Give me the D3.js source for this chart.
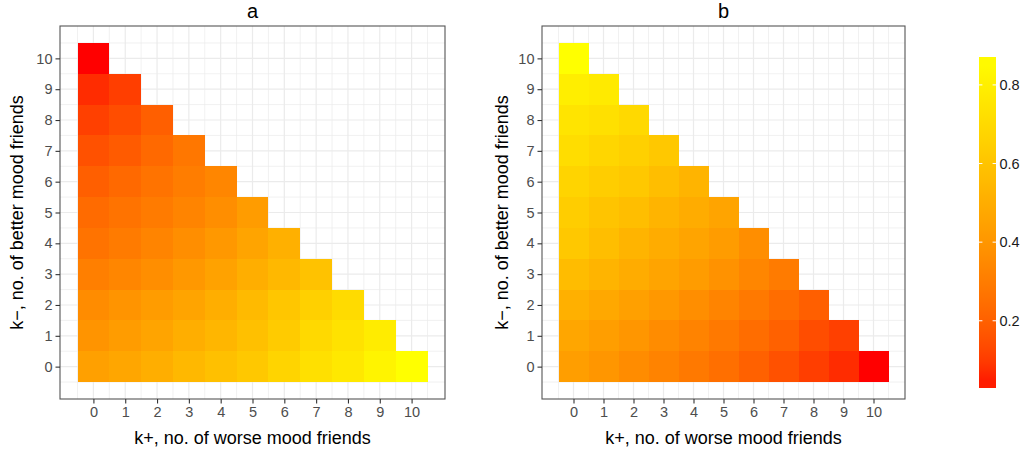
<!DOCTYPE html>
<html>
<head>
<meta charset="utf-8">
<script src="https://cdn.jsdelivr.net/npm/d3@7"></script>
<style>
  body { margin: 0; background: #fff; }
  svg { display: block; font-family: "Liberation Sans", Arial, Helvetica, sans-serif; }
</style>
</head>
<body>
<svg id="chart" width="1035" height="456"></svg>
<script>
// Tick labels for both axes and for the colour bar
const kTicks = [0, 1, 2, 3, 4, 5, 6, 7, 8, 9, 10];
const legendTicks = [0.2, 0.4, 0.6, 0.8];
const panelTitles = ["a", "b"];
const xTitle = "k+, no. of worse mood friends";
const yTitle = "k\u2212, no. of better mood friends";

// Panel a: one row per k- (0..10); entries run over k+ = 0 .. 10 - k-
const panelA = [
  [0.442, 0.468, 0.503, 0.546, 0.583, 0.619, 0.674, 0.729, 0.766, 0.821, 0.871],
  [0.393, 0.426, 0.459, 0.503, 0.538, 0.583, 0.629, 0.693, 0.738, 0.784],
  [0.361, 0.393, 0.426, 0.459, 0.503, 0.555, 0.610, 0.656, 0.702],
  [0.308, 0.338, 0.369, 0.410, 0.450, 0.503, 0.546, 0.592],
  [0.265, 0.294, 0.330, 0.369, 0.410, 0.459, 0.511],
  [0.236, 0.265, 0.294, 0.330, 0.369, 0.426],
  [0.196, 0.230, 0.265, 0.301, 0.338],
  [0.154, 0.183, 0.230, 0.279],
  [0.111, 0.143, 0.196],
  [0.071, 0.107],
  [0.029]
];

// Panel b: same layout
const panelB = [
  [0.434, 0.401, 0.361, 0.323, 0.287, 0.250, 0.203, 0.154, 0.107, 0.071, 0.029],
  [0.468, 0.434, 0.401, 0.361, 0.323, 0.287, 0.243, 0.203, 0.143, 0.111],
  [0.511, 0.476, 0.442, 0.410, 0.369, 0.330, 0.287, 0.243, 0.196],
  [0.564, 0.529, 0.494, 0.459, 0.426, 0.385, 0.338, 0.294],
  [0.619, 0.574, 0.529, 0.494, 0.459, 0.426, 0.369],
  [0.638, 0.601, 0.574, 0.529, 0.494, 0.459],
  [0.674, 0.638, 0.619, 0.574, 0.529],
  [0.711, 0.683, 0.656, 0.619],
  [0.747, 0.729, 0.693],
  [0.793, 0.775],
  [0.871]
];

const svg = d3.select("#chart");

function toCells(rows) {
  const cells = [];
  rows.forEach((row, km) => row.forEach((v, kp) => cells.push({ kp, km, v })));
  return cells;
}

const cellsA = toCells(panelA);
const cellsB = toCells(panelB);

// Shared red -> yellow fill scale over all values
const extent = d3.extent(cellsA.concat(cellsB), d => d.v);
const color = d3.scaleSequential(d3.interpolateLab("red", "yellow")).domain(extent);

// Continuous axes with 5% expansion around the tile extent [-0.5, 10.5]
const lo = -0.5 - 0.55, hi = 10.5 + 0.55;
const panelTop = 26, panelBottom = 399;

const gridVals = d3.range(-0.5, 10.51, 0.5);

function drawPanel(cells, title, left, right, yTitleX) {
  const x = d3.scaleLinear().domain([lo, hi]).range([left, right]);
  const y = d3.scaleLinear().domain([lo, hi]).range([panelBottom, panelTop]);
  const g = svg.append("g");

  // grid
  const grid = g.append("g");
  grid.selectAll("line.v").data(gridVals).join("line")
    .attr("x1", d => x(d)).attr("x2", d => x(d))
    .attr("y1", panelTop).attr("y2", panelBottom)
    .attr("stroke", "#EBEBEB")
    .attr("stroke-width", d => Number.isInteger(d) ? 1.2 : 0.7);
  grid.selectAll("line.h").data(gridVals).join("line")
    .attr("y1", d => y(d)).attr("y2", d => y(d))
    .attr("x1", left).attr("x2", right)
    .attr("stroke", "#EBEBEB")
    .attr("stroke-width", d => Number.isInteger(d) ? 1.2 : 0.7);

  // tiles
  g.append("g").selectAll("rect").data(cells).join("rect")
    .attr("x", d => x(d.kp - 0.5))
    .attr("width", d => x(d.kp + 0.5) - x(d.kp - 0.5))
    .attr("y", d => y(d.km + 0.5))
    .attr("height", d => y(d.km - 0.5) - y(d.km + 0.5))
    .attr("fill", d => color(d.v))
    .attr("shape-rendering", "crispEdges");

  // border
  g.append("rect")
    .attr("x", left).attr("y", panelTop)
    .attr("width", right - left).attr("height", panelBottom - panelTop)
    .attr("fill", "none").attr("stroke", "#555").attr("stroke-width", 1.1);

  // axes
  const xAxis = g.append("g").attr("transform", `translate(0,${panelBottom})`)
    .call(d3.axisBottom(x).tickValues(kTicks).tickSize(4.5).tickPadding(3).tickFormat(d3.format("d")));
  const yAxis = g.append("g").attr("transform", `translate(${left},0)`)
    .call(d3.axisLeft(y).tickValues(kTicks).tickSize(4.5).tickPadding(3).tickFormat(d3.format("d")));
  [xAxis, yAxis].forEach(a => {
    a.select(".domain").remove();
    a.selectAll(".tick line").attr("stroke", "#333").attr("stroke-width", 1.1);
    a.selectAll(".tick text").attr("fill", "#4D4D4D").attr("font-size", 14.5)
      .attr("font-family", "Liberation Sans, Arial, sans-serif");
  });

  // titles
  g.append("text")
    .attr("x", (left + right) / 2).attr("y", 18.2)
    .attr("text-anchor", "middle").attr("font-size", 20).attr("fill", "#000")
    .text(title);
  g.append("text")
    .attr("x", (left + right) / 2).attr("y", 444)
    .attr("text-anchor", "middle").attr("font-size", 18).attr("fill", "#000")
    .text(xTitle);
  g.append("text")
    .attr("transform", `translate(${yTitleX},${(panelTop + panelBottom) / 2}) rotate(-90)`)
    .attr("text-anchor", "middle").attr("font-size", 18).attr("fill", "#000")
    .text(yTitle);
}

drawPanel(cellsA, panelTitles[0], 60, 445, 23);
drawPanel(cellsB, panelTitles[1], 542, 905, 508);

// colour bar
const barX = 979, barW = 17, barTop = 57, barBottom = 388;
const ly = d3.scaleLinear().domain(extent).range([barBottom, barTop]);
const defs = svg.append("defs");
const grad = defs.append("linearGradient").attr("id", "cbar")
  .attr("x1", 0).attr("y1", 1).attr("x2", 0).attr("y2", 0);
const nStops = 20;
d3.range(nStops).forEach(i => {
  const t = (i + 0.5) / nStops;
  const v = extent[0] + t * (extent[1] - extent[0]);
  grad.append("stop").attr("offset", t).attr("stop-color", color(v));
});
svg.append("rect")
  .attr("x", barX).attr("y", barTop).attr("width", barW).attr("height", barBottom - barTop)
  .attr("fill", "url(#cbar)");
const lg = svg.append("g");
legendTicks.forEach(v => {
  lg.append("line").attr("x1", barX).attr("x2", barX + 3.4)
    .attr("y1", ly(v)).attr("y2", ly(v)).attr("stroke", "#fff").attr("stroke-width", 1);
  lg.append("line").attr("x1", barX + barW - 3.4).attr("x2", barX + barW)
    .attr("y1", ly(v)).attr("y2", ly(v)).attr("stroke", "#fff").attr("stroke-width", 1);
  lg.append("text").attr("x", barX + barW + 3.5).attr("y", ly(v)).attr("dy", "0.35em")
    .attr("font-size", 14.5).attr("fill", "#1A1A1A").text(d3.format(".1f")(v));
});
</script>
</body>
</html>
